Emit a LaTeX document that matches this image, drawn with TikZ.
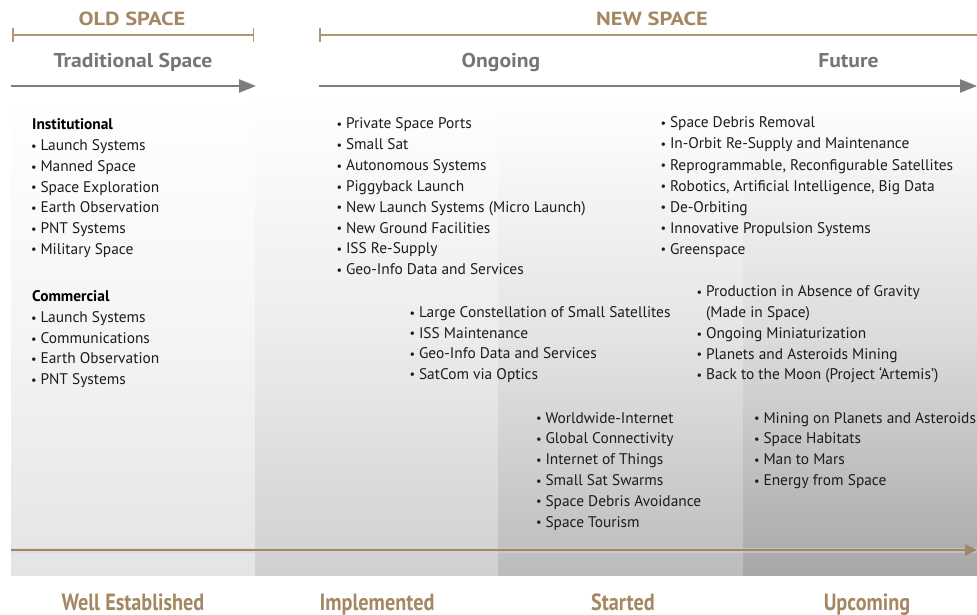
\documentclass[tikz,border=0pt]{standalone}
\usepackage{fontspec}
\setmainfont{PT Sans}
\newfontfamily\condfont{PT Sans}[FakeStretch=0.86]
\newfontfamily\widefont{PT Sans}[FakeStretch=1.18]
\newfontfamily\midfont{PT Sans}[FakeStretch=1.08]
\usetikzlibrary{arrows.meta}
\definecolor{gold}{HTML}{A48763}
\definecolor{goldline}{HTML}{B39571}
\definecolor{hgray}{HTML}{767676}
\definecolor{agray}{HTML}{7D7D7D}
\definecolor{colA}{HTML}{E3E4E6}
\definecolor{colB}{HTML}{CFD0D2}
\definecolor{colC}{HTML}{BBBCBE}
\definecolor{colD}{HTML}{A7A8AA}
\definecolor{txt}{HTML}{1C1C1C}
\definecolor{brownline}{HTML}{9E866A}
\newcommand{\bul}{\makebox[9.3pt][l]{\raisebox{0.3pt}{\scalebox{0.8}{•}}}}
\tikzset{
  item/.style={anchor=base west, inner sep=0pt, text=txt, font=\fontsize{15.4}{18}\selectfont},
  ihead/.style={anchor=base west, inner sep=0pt, text=black, font=\bfseries\fontsize{15.4}{18}\selectfont},
  spacelab/.style={anchor=base, inner sep=0pt, text=gold, font=\widefont\bfseries\fontsize{19}{19}\selectfont},
  phaselab/.style={anchor=base, inner sep=0pt, text=hgray, font=\midfont\bfseries\fontsize{20}{20}\selectfont},
  botlab/.style={anchor=base, inner sep=0pt, text=gold, font=\condfont\bfseries\fontsize{23.5}{23.5}\selectfont},
  bracketline/.style={draw=goldline, line width=1.5pt},
  grayarrow/.style={draw=agray, line width=2.3pt, -{Triangle[length=17pt,width=13pt]}},
  colshade/.style={top color=white, bottom color=#1, middle color=#1!40!white}
}
\begin{document}
\begin{tikzpicture}[x=1pt,y=-1pt]
\useasboundingbox (0,0) rectangle (977,615);
\fill[white] (0,0) rectangle (977,615);
% background columns
\shade[colshade=colA] (11,95) rectangle (255,575);
\shade[colshade=colB] (255,95) rectangle (498,575);
\shade[colshade=colC] (498,95) rectangle (743,575);
\shade[colshade=colD] (743,95) rectangle (977,575);
% top headings
\node[spacelab] (old) at (132,26) {OLD SPACE};
\node[spacelab] (new) at (652,26) {NEW SPACE};
\coordinate (ob1) at (12,35);
\coordinate (ob2) at (254,35);
\coordinate (nb1) at (319,35);
\coordinate (nb2) at (977,35);
\draw[bracketline, {Bar[width=14pt]}-{Bar[width=14pt]}] (ob1) -- (ob2);
\draw[bracketline, {Bar[width=14pt]}-] (nb1) -- (nb2);
\node[phaselab] (trad) at (133,68) {Traditional Space};
\node[phaselab] (ong) at (501,68) {Ongoing};
\node[phaselab] (fut) at (848.5,68) {Future};
\coordinate (ta1) at (11,86);
\coordinate (ta2) at (256,86);
\coordinate (na1) at (319,86);
\coordinate (na2) at (977,86);
\draw[grayarrow] (ta1) -- (ta2);
\draw[grayarrow] (na1) -- (na2);
% column 1
\node[ihead] (inst) at (32,129.3) {Institutional};
\foreach \t [count=\i] in {Launch Systems, Manned Space, Space Exploration, Earth Observation, PNT Systems, Military Space}
  \node[item] (ins\i) at (31,{150.7+(\i-1)*20.7}) {\bul\t};
\node[ihead] (comm) at (32,301.7) {Commercial};
\foreach \t [count=\i] in {Launch Systems, Communications, Earth Observation, PNT Systems}
  \node[item] (com\i) at (31,{322.7+(\i-1)*20.6}) {\bul\t};
% ongoing 1
\foreach \t [count=\i] in {Private Space Ports, Small Sat, Autonomous Systems, Piggyback Launch, New Launch Systems (Micro Launch), New Ground Facilities, ISS Re-Supply, Geo-Info Data and Services}
  \node[item] (on\i) at (336.5,{129+(\i-1)*20.8}) {\bul\t};
% future 1
\foreach \t [count=\i] in {Space Debris Removal, In-Orbit Re-Supply and Maintenance, {Reprogrammable, Reconfigurable Satellites}, {Robotics, Artificial Intelligence, Big Data}, De-Orbiting, Innovative Propulsion Systems, Greenspace}
  \node[item] (fu\i) at (660.5,{128+(\i-1)*21}) {\bul\t};
% ongoing 2
\foreach \t [count=\i] in {Large Constellation of Small Satellites, ISS Maintenance, Geo-Info Data and Services, SatCom via Optics}
  \node[item] (onb\i) at (409.5,{317.6+(\i-1)*20.5}) {\bul\t};
% future 2
\node[item] (fub1) at (696.5,296.8) {\bul Production in Absence of Gravity};
\node[item] (fub2) at (705.8,317.5) {(Made in Space)};
\foreach \t [count=\i from 3] in {Ongoing Miniaturization, Planets and Asteroids Mining, Back to the Moon (Project ‘Artemis’)}
  \node[item] (fub\i) at (696.5,{296.8+(\i-1)*20.75}) {\bul\t};
% ongoing 3
\foreach \t [count=\i] in {Worldwide-Internet, Global Connectivity, Internet of Things, Small Sat Swarms, Space Debris Avoidance, Space Tourism}
  \node[item] (onc\i) at (536,{423+(\i-1)*20.8}) {\bul\t};
% future 3
\foreach \t [count=\i] in {Mining on Planets and Asteroids, Space Habitats, Man to Mars, Energy from Space}
  \node[item] (fuc\i) at (754,{423+(\i-1)*20.8}) {\bul\t};
% bottom arrow
\coordinate (ba1) at (11,550);
\coordinate (ba2) at (977,550);
\draw[draw=brownline!35!white, line width=5pt, opacity=0.5] (ba1) -- (ba2);
\draw[draw=brownline, line width=2.2pt, -{Triangle[length=12pt,width=11pt]}] (ba1) -- (ba2);
% bottom labels
\node[botlab] (l1) at (133,610) {Well Established};
\node[botlab] (l2) at (377,610) {Implemented};
\node[botlab] (l3) at (623,610) {Started};
\node[botlab] (l4) at (867,610) {Upcoming};
\end{tikzpicture}
\end{document}
